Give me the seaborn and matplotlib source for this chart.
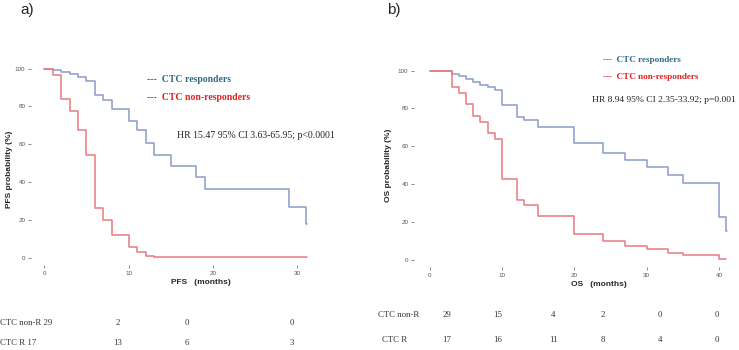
import numpy as np
import pandas as pd
import matplotlib
matplotlib.use("Agg")
import matplotlib.pyplot as plt
import seaborn as sns

# PFS (panel a) - Kaplan-Meier steps
pfs_r_t = [0, 1, 2, 3, 4, 5, 6, 7, 8, 10, 11, 12, 13, 15, 18, 19, 29, 31, 31.1]
pfs_r_s = [100, 99.3, 98.2, 97.2, 95.6, 93.5, 85.9, 83.6, 78.7, 72.2, 67.3, 60.6, 54.4, 48.6, 42.6, 36.3, 27.1, 18, 18]
pfs_n_t = [0, 1, 2, 3, 4, 5, 6, 7, 8, 10, 11, 12, 13, 15, 31.1]
pfs_n_s = [100, 96.5, 84, 77.5, 67.4, 54.6, 26.4, 20.2, 12, 5.6, 3, 1.2, 0.6, 0.2, 0.2]

# OS (panel b)
os_r_t = [0, 3, 4, 5, 6, 7, 8, 9, 10, 12, 13, 15, 20, 24, 27, 30, 33, 35, 40, 41, 41.1]
os_r_s = [100, 98.1, 97.2, 95.4, 93.8, 92.6, 91.2, 89.8, 81.6, 75.6, 73.8, 70.1, 61.5, 56.7, 52.7, 48.8, 44.7, 40.6, 22.8, 15.2, 15.2]
os_n_t = [0, 3, 4, 5, 6, 7, 8, 9, 10, 12, 13, 15, 20, 24, 27, 30, 33, 35, 40, 41]
os_n_s = [100, 91.2, 88, 82.3, 76, 72.8, 67.1, 63.6, 42.9, 31.8, 29, 23.3, 13.8, 9.9, 7.2, 5.5, 3.5, 2.5, 0.4, 0.4]

# numbers at risk
pfs_risk_nonr = ["2", "0", "0"]
pfs_risk_r = ["13", "6", "3"]
os_risk_nonr = ["29", "15", "4", "2", "0", "0"]
os_risk_r = ["17", "16", "11", "8", "4", "0"]

line_r = "#8c9bc8"
line_n = "#e87a7e"
txt_r = "#2f6b86"
txt_n = "#e0201e"
serif = "Liberation Serif"

sns.set_style("white")
plt.rcParams["font.family"] = ["Liberation Sans", "DejaVu Sans"]


def make_df(rt, rs, nt, ns):
    a = pd.DataFrame({"t": rt, "s": rs, "grp": "R"})
    b = pd.DataFrame({"t": nt, "s": ns, "grp": "N"})
    return pd.concat([a, b], ignore_index=True)


W, H = 739, 350
fig = plt.figure(figsize=(W / 100, H / 100), dpi=100)
ax1 = fig.add_axes([31 / W, 1 - 265 / H, 284 / W, 203 / H])
ax2 = fig.add_axes([414 / W, 1 - 267 / H, 318 / W, 203 / H])

for ax, df, xlim, xticks, name in [
    (ax1, make_df(pfs_r_t, pfs_r_s, pfs_n_t, pfs_n_s), (-1.58, 32.1), [0, 10, 20, 30], "PFS"),
    (ax2, make_df(os_r_t, os_r_s, os_n_t, os_n_s), (-2.2, 41.8), [0, 10, 20, 30, 40], "OS"),
]:
    sns.lineplot(data=df, x="t", y="s", hue="grp", palette={"R": line_r, "N": line_n},
                 drawstyle="steps-post", estimator=None, sort=False, lw=1.1,
                 legend=False, ax=ax)
    ax.set_xlim(*xlim)
    ax.set_ylim(-3.8, 103.5)
    ax.set_xticks(xticks)
    ax.set_yticks([0, 20, 40, 60, 80, 100])
    ax.tick_params(bottom=True, left=True, length=2.5, width=0.6, color="#777",
                   labelsize=4.5, labelcolor="#555", pad=1.5)
    sns.despine(ax=ax, left=True, bottom=True)
    ax.set_ylabel(f"{name} probability (%)", fontsize=6, fontweight="bold", labelpad=3)
    ax.set_xlabel(f"{name}   (months)", fontsize=6, fontweight="bold", labelpad=3)

ax1.xaxis.set_label_coords((201 - 31) / 284, -0.07)
ax2.xaxis.set_label_coords((599 - 414) / 318, -0.07)
ax1.yaxis.set_label_coords(-0.062, 0.47)
ax2.yaxis.set_label_coords(-0.068, 0.5)

# panel letters
fig.text(20 / W, 1 - 10 / H, "a)", fontsize=11, va="center", ha="left")
fig.text(387 / W, 1 - 10 / H, "b)", fontsize=11, va="center", ha="left")


def ftext(x, y, s, **kw):
    fig.text(x / W, 1 - y / H, s, va="center", **kw)


# legends and HR
ftext(147, 79, "---  CTC responders", color=txt_r, family=serif, fontweight="bold", fontsize=7)
ftext(147, 97, "---  CTC non-responders", color=txt_n, family=serif, fontweight="bold", fontsize=7)
ftext(177, 135, "HR 15.47 95% CI 3.63-65.95; p<0.0001", color="#222", family=serif, fontsize=7)
ftext(603, 60, "---  CTC responders", color=txt_r, family=serif, fontweight="bold", fontsize=6.6)
ftext(603, 77, "---  CTC non-responders", color=txt_n, family=serif, fontweight="bold", fontsize=6.6)
ftext(592, 100, "HR 8.94 95% CI 2.35-33.92; p=0.001", color="#222", family=serif, fontsize=6.8)

# risk tables
ftext(0, 323, "CTC non-R 29", color="#333", family=serif, fontsize=6.3)
ftext(0, 343, "CTC R 17", color="#333", family=serif, fontsize=6.3)
for x, a, b in zip([118, 187, 292], pfs_risk_nonr, pfs_risk_r):
    ftext(x, 323, a, color="#333", family=serif, fontsize=6.3, ha="center")
    ftext(x, 343, b, color="#333", family=serif, fontsize=6.3, ha="center")

ftext(378, 315, "CTC non-R", color="#333", family=serif, fontsize=6.3)
ftext(382, 340, "CTC R", color="#333", family=serif, fontsize=6.3)
for x, a, b in zip([447, 498, 553, 603, 660, 717], os_risk_nonr, os_risk_r):
    ftext(x, 315, a, color="#333", family=serif, fontsize=6.3, ha="center")
    ftext(x, 340, b, color="#333", family=serif, fontsize=6.3, ha="center")

fig.savefig("out.png", dpi=100)
